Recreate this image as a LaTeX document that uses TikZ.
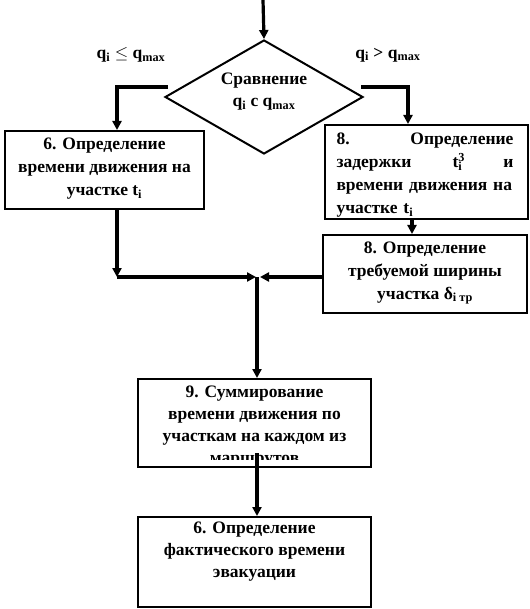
\documentclass[tikz,border=0pt]{standalone}
\usepackage{fontspec}
\setmainfont{Liberation Serif}
\usetikzlibrary{arrows.meta,shapes.geometric,calc}
\begin{document}
\begin{tikzpicture}[x=1pt,y=-1pt,
  txt/.style={font=\fontsize{17.5}{23}\selectfont\bfseries,inner sep=0pt,align=center},
  box/.style={draw,line width=2pt,inner sep=0pt,rectangle},
  conn/.style={line width=3.2pt,-{Triangle[length=9pt,width=9pt]}},
  plain/.style={line width=3.2pt}]
\useasboundingbox (0,0) rectangle (529,609);

% decision
\node[draw,diamond,line width=2pt,inner sep=0pt,aspect=1.72,
      minimum width=198pt,minimum height=114pt] (d) at (264,97) {};
\node[txt] (dt) at (264,92) {Сравнение\\[-1pt] q\textsubscript{i} с q\textsubscript{max}};
\node[txt] (l1) at (131,55) {q\textsubscript{i} \ensuremath{\leq} q\textsubscript{max}};
\node[txt] (l2) at (388,55) {q\textsubscript{i} > q\textsubscript{max}};

% boxes
\node[box,minimum width=199pt,minimum height=78pt] (lb) at (104.5,170) {};
\node[txt] (lbt) at (104.5,169) {6. Определение\\ времени движения на\\ участке t\textsubscript{i}};

\node[box,minimum width=203pt,minimum height=94pt] (r1) at (426.5,172) {};
\node[txt,align=left,text width=177pt] (r1t) at (425,175)
 {8.\hfill Определение\\ задержки\hfill t\rlap{\textsuperscript{3}}\textsubscript{i}\hfill и\\ времени движения на\\ участке t\textsubscript{i}};

\node[box,minimum width=204pt,minimum height=78pt] (r2) at (425,274) {};
\node[txt] (r2t) at (425,273) {8. Определение\\ требуемой ширины\\ участка δ\textsubscript{i тр}};

\node[box,minimum width=233pt,minimum height=88pt] (b9) at (254.5,423) {};
\begin{scope}
\clip (b9.north west) rectangle (b9.east |- 0,459);
\node[txt,anchor=north,font=\fontsize{17.5}{22}\selectfont\bfseries] (b9t) at (254.5,386)
 {9. Суммирование\\ времени движения по\\ участкам на каждом из\\ маршрутов};
\end{scope}

\node[box,minimum width=233pt,minimum height=90pt] (b6) at (254.5,562) {};
\node[txt,font=\fontsize{17.5}{22}\selectfont\bfseries] (b6t) at (254.5,552) {6. Определение\\ фактического времени\\ эвакуации};

% coordinates
\coordinate (top) at (263,0);
\coordinate (dl) at (168,87);
\coordinate (dr) at (361,87);
\coordinate (xL) at (117,0);
\coordinate (xR) at (408,0);
\coordinate (xR2) at (412,0);
\coordinate (jl) at (117,277);
\coordinate (j) at (257,277);
\coordinate (b9s) at (257,453);

% connectors
\draw[conn] (top) -- (d.north);
\draw[conn] (dl) -| (lb.north -| xL);
\draw[conn] (dr) -| (r1.north -| xR);
\draw[conn] (r1.south -| xR2) -- (r2.north -| xR2);
\draw[conn] (lb.south -| xL) -- (jl);
\draw[conn] (jl) -- ($(j)+(-1,0)$);
\draw[conn] (r2.west |- j) -- ($(j)+(3,0)$);
\draw[conn] (j) -- (b9.north -| j);
\draw[conn] (b9s) -- (b6.north -| b9s);
\end{tikzpicture}
\end{document}
